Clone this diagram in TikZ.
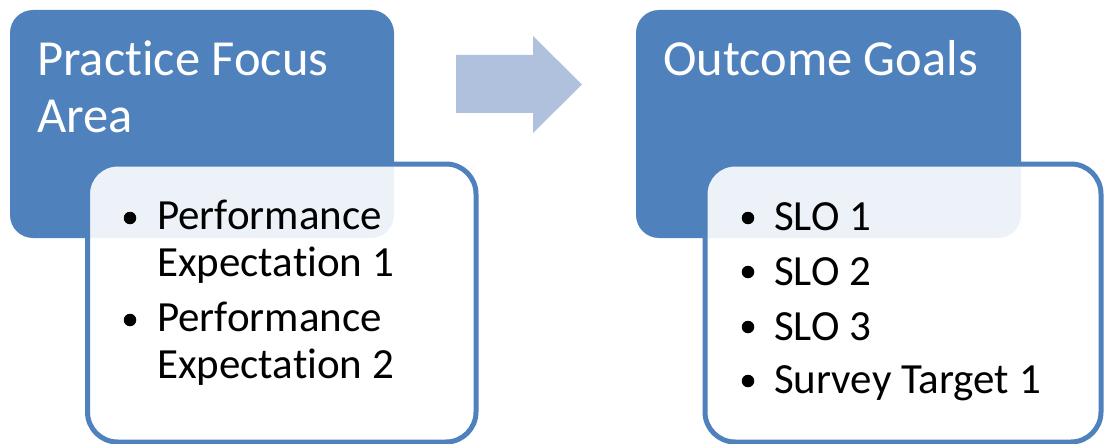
\documentclass[tikz,border=0pt]{standalone}
\usepackage{fontspec}
\setmainfont{Carlito}[Ligatures={NoCommon}]
\definecolor{accblue}{HTML}{4F81BD}
\definecolor{arrowblue}{HTML}{B0C1DE}
\tikzset{
  headbox/.style={fill=accblue, draw=none, rounded corners=23pt},
  listbox/.style={fill=white, fill opacity=0.9, draw=accblue, draw opacity=1, line width=5pt, rounded corners=30pt},
  headtxt/.style={anchor=base west, inner sep=0pt, text=white, font=\fontsize{50.5}{56}\selectfont},
  itemtxt/.style={anchor=base west, inner sep=0pt, text=black, font=\fontsize{43}{50}\selectfont},
  bul/.style={circle, fill=black, inner sep=0pt, minimum size=12.5pt}
}
\begin{document}
\begin{tikzpicture}[x=1pt,y=-1pt]
\useasboundingbox (0,0) rectangle (1104,444);
% left group
\path[headbox] (10,10) rectangle (394,238);
\node[headtxt] (t1a) at (37,76) {Practice Focus};
\node[headtxt] (t1b) at (37,132) {Area};
\path[listbox] (87.5,164) rectangle (476,442);
\node[bul] (b1) at (130,218) {};
\node[itemtxt] (l1a) at (157,229) {Performance};
\node[itemtxt] (l1b) at (157,276) {Expectation 1};
\node[bul] (b2) at (130,320) {};
\node[itemtxt] (l2a) at (157,331) {Performance};
\node[itemtxt] (l2b) at (157,378) {Expectation 2};
% arrow
\fill[arrowblue] (456,55) -- (533,55) -- (533,36) -- (582,84.5) -- (533,133) -- (533,113) -- (456,113) -- cycle;
% right group
\path[headbox] (636,10) rectangle (1021,238);
\node[headtxt] (t2a) at (663,76) {Outcome Goals};
\path[listbox] (705,164) rectangle (1101,442);
\node[bul] (c1) at (748,218) {};
\node[itemtxt] (r1) at (774,230) {SLO 1};
\node[bul] (c2) at (748,272) {};
\node[itemtxt] (r2) at (774,285) {SLO 2};
\node[bul] (c3) at (748,327) {};
\node[itemtxt] (r3) at (774,340) {SLO 3};
\node[bul] (c4) at (748,381) {};
\node[itemtxt] (r4) at (774,393) {Survey Target 1};
\end{tikzpicture}
\end{document}
